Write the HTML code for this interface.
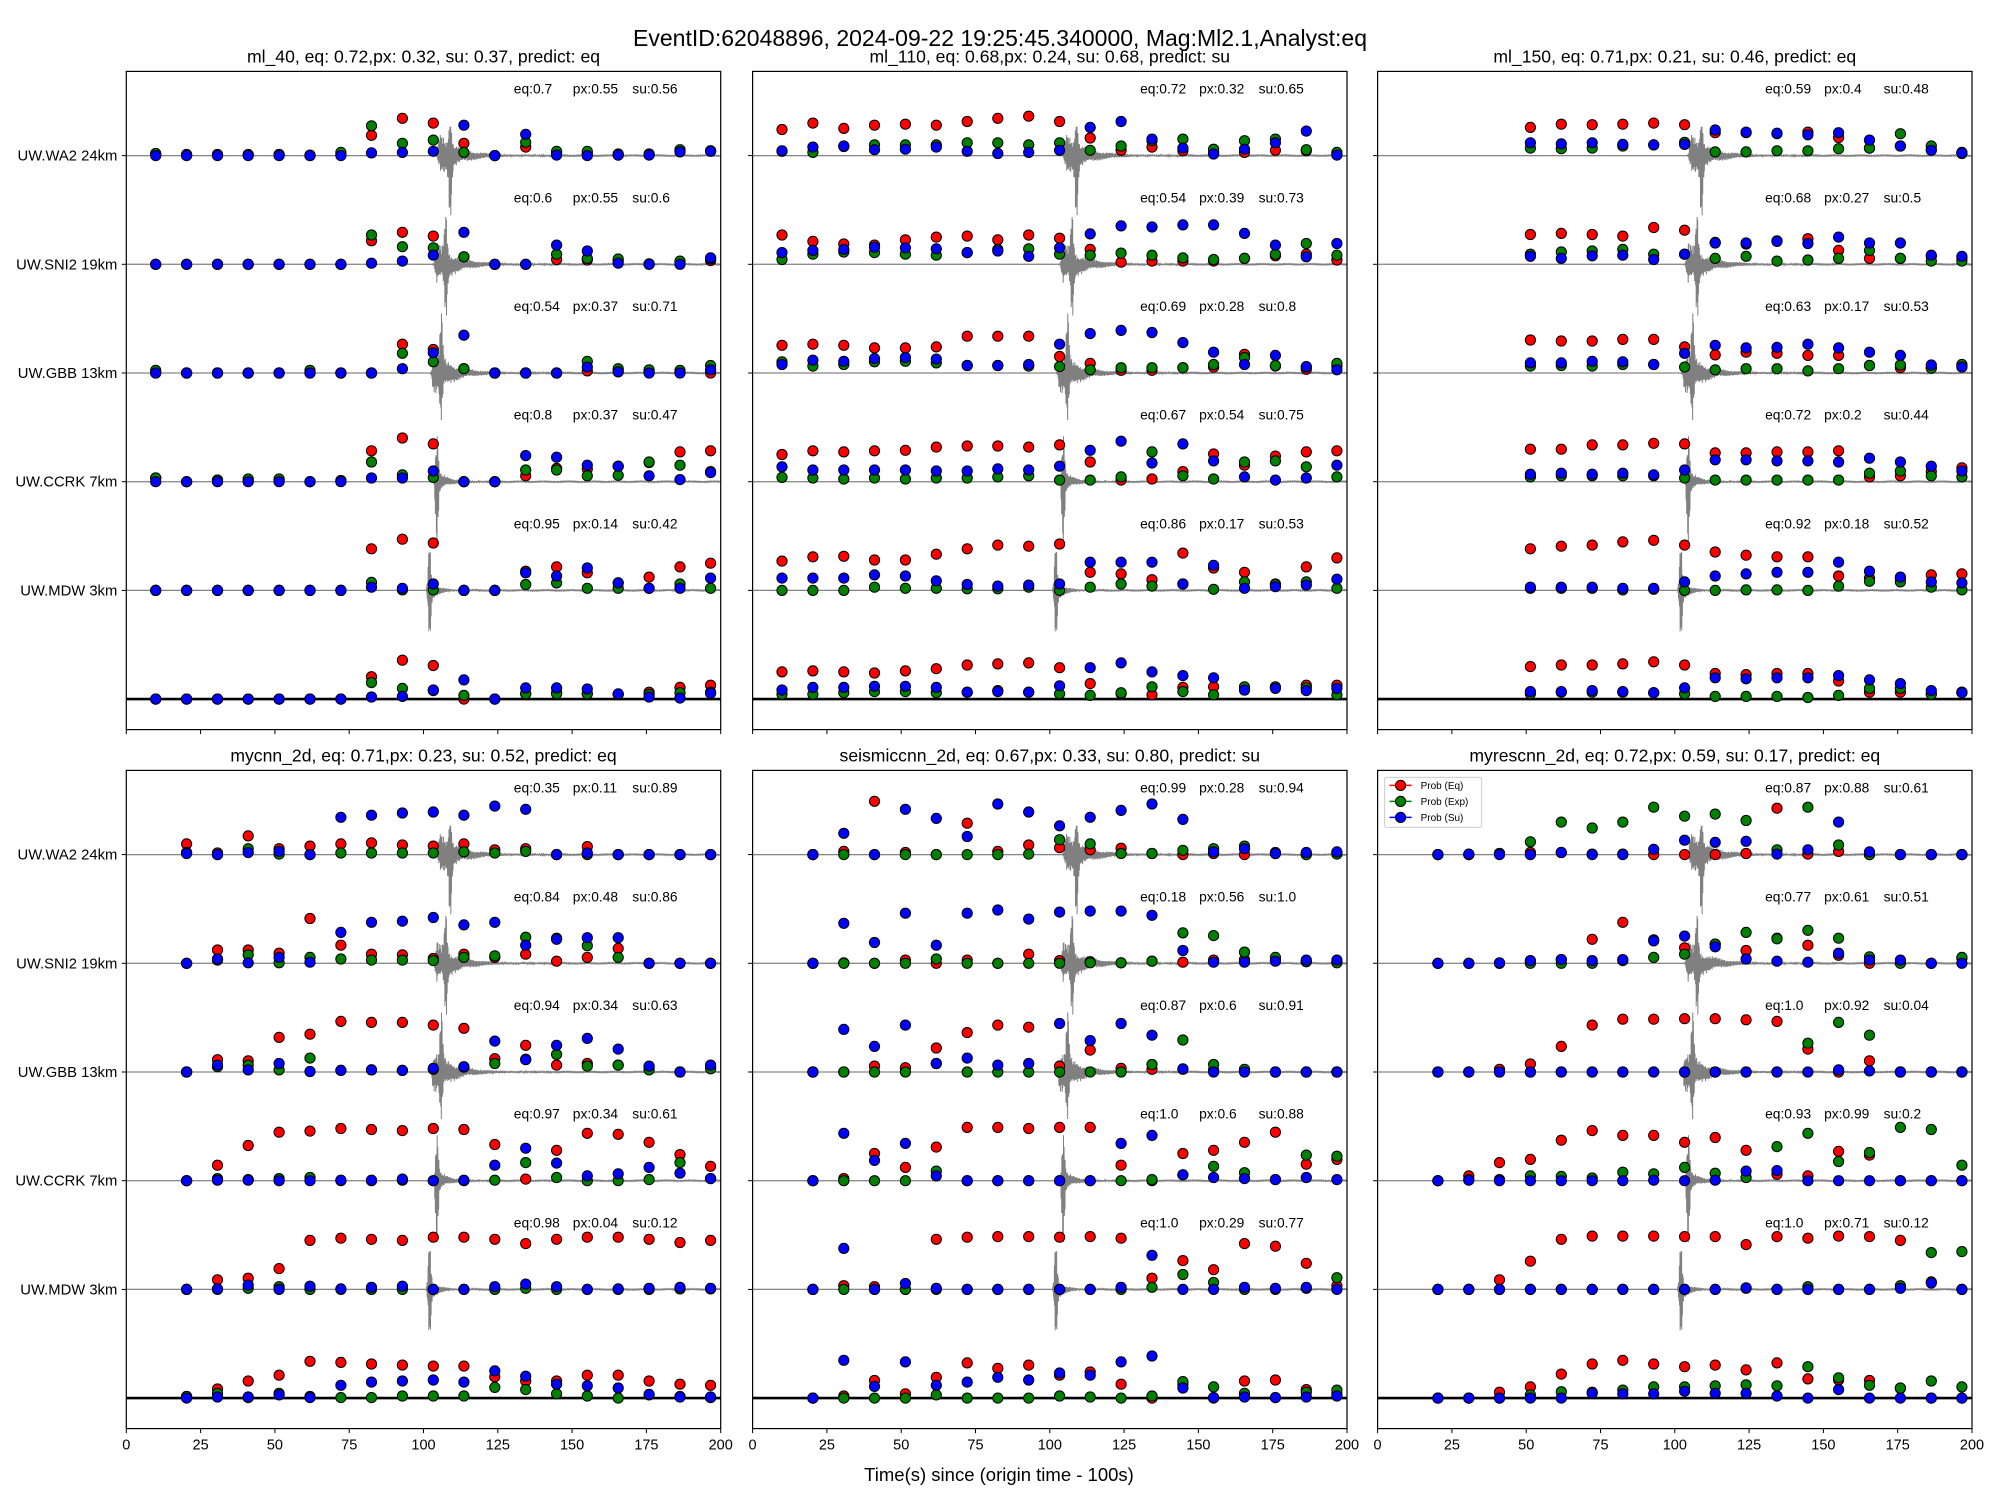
<!DOCTYPE html>
<html><head><meta charset="utf-8"><title>EventID 62048896</title>
<style>html,body{margin:0;padding:0;background:#fff}svg{display:block}text{font-family:"Liberation Sans",sans-serif;fill:#000}</style>
</head><body>
<svg id="fig" width="2000" height="1500" viewBox="0 0 2000 1500" xmlns="http://www.w3.org/2000/svg">
<rect x="0" y="0" width="2000" height="1500" fill="#fff"/>
<text x="1000" y="46" font-size="23" text-anchor="middle">EventID:62048896, 2024-09-22 19:25:45.340000, Mag:Ml2.1,Analyst:eq</text>
<text x="999" y="1481" font-size="18.5" text-anchor="middle">Time(s) since (origin time - 100s)</text>
</svg>
<script>
const times = [9.9,20.3,30.7,41.0,51.4,61.8,72.2,82.5,92.9,103.3,113.6,124.0,134.4,144.8,155.1,165.5,175.9,186.3,196.6];
const stations = ["UW.WA2 24km","UW.SNI2 19km","UW.GBB 13km","UW.CCRK 7km","UW.MDW 3km"];
const xTicks = [0,25,50,75,100,125,150,175,200];
const onsets = [104.5,103.5,102.5,103.5,101.5];
const peaks = [109,107.5,106,104.5,102];

const ml40_eq = [[.02,.02,.02,.02,.02,.01,.02,.38,.70,.61,.23,0,.16,.06,.04,.01,.02,.09,.09],[0,0,0,0,0,0,0,.44,.60,.53,.14,0,0,.09,.08,.06,.01,.04,.07],[0,0,0,0,0,0,0,0,.54,.44,.08,0,0,0,.04,.05,.02,.02,0],[.07,0,.03,.03,.03,0,.02,.58,.82,.71,0,0,.11,.25,.24,.29,.36,.56,.58],[0,0,0,0,0,0,0,.78,.96,.89,0,0,.36,.44,.33,.14,.25,.44,.51],[0,0,0,0,0,0,0,.42,.73,.63,0,0,.10,.12,.10,.09,.13,.22,.26]];
const ml40_px = [[.04,.01,.01,.01,.02,0,.06,.56,.23,.29,.06,0,.25,.08,.08,.03,.03,.11,.09],[0,0,0,0,0,0,0,.55,.33,.31,.14,0,0,.19,.11,.10,0,.06,.10],[.05,0,0,0,0,.05,0,0,.37,.21,.08,0,0,0,.22,.08,.06,.05,.14],[.07,0,.03,.05,.05,0,.02,.37,.13,.08,0,0,.22,.22,.11,.12,.37,.31,.19],[0,0,0,0,0,0,0,.15,.01,.01,0,0,.11,.14,.04,.04,.04,.12,.04],[0,0,0,0,0,0,0,.31,.20,.16,.07,0,.10,.10,.10,.09,.09,.12,.13]];
const ml40_su = [[0,0,0,0,0,0,0,.05,.06,.08,.57,0,.40,.01,0,.01,.01,.07,.08],[0,0,0,0,0,0,0,.02,.06,.17,.60,0,0,.36,.25,.02,0,0,.12],[0,0,0,0,0,0,0,0,.08,.38,.71,0,0,0,.11,.02,0,0,.06],[0,0,0,0,0,0,0,.07,.07,.20,0,0,.49,.46,.31,.29,.11,.04,.17],[0,0,0,0,0,0,0,.06,.04,.12,0,0,.33,.27,.42,.14,.04,.04,.23],[0,0,0,0,0,0,0,.04,.05,.17,.36,0,.21,.21,.19,.10,.04,.02,.11]];
const ml40_ann = [["0.7","0.55","0.56"],["0.6","0.55","0.6"],["0.54","0.37","0.71"],["0.8","0.37","0.47"],["0.95","0.14","0.42"]];

const ml110_eq = [[.49,.61,.51,.57,.59,.57,.64,.70,.74,.64,.33,.10,.16,.09,.06,.06,.10,.09,.04],[.55,.43,.38,.36,.46,.51,.53,.46,.55,.49,.28,.04,.06,.06,.06,.11,.16,.19,.08],[.52,.54,.52,.47,.47,.49,.69,.69,.69,.31,.18,.05,.05,.10,.11,.35,.13,.07,.13],[.51,.58,.56,.58,.59,.65,.67,.67,.65,.69,.37,.03,.05,.19,.52,.31,.48,.56,.58],[.55,.63,.64,.57,.57,.68,.78,.85,.83,.87,.34,.31,.20,.70,.42,.34,.12,.44,.61],[.51,.53,.51,.49,.53,.57,.64,.66,.68,.59,.29,.10,.08,.22,.23,.17,.22,.26,.26]];
const ml110_px = [[.08,.06,.17,.20,.20,.20,.24,.24,.20,.24,.10,.18,.28,.31,.12,.28,.31,.11,.06],[.09,.19,.23,.22,.19,.17,.22,.28,.29,.19,.17,.21,.17,.12,.09,.11,.19,.39,.17],[.21,.13,.16,.21,.22,.19,.14,.14,.13,.12,.06,.10,.10,.10,.16,.29,.14,.11,.18],[.08,.07,.05,.07,.05,.07,.07,.09,.11,.03,.03,.09,.56,.11,.05,.37,.39,.28,.09],[0,0,0,.06,.04,.04,.03,.03,.06,0,.06,.12,.08,.12,.02,.16,.11,.16,.04],[.09,.09,.12,.14,.14,.12,.13,.16,.13,.10,.07,.12,.23,.14,.08,.23,.23,.21,.08]];
const ml110_su = [[.09,.16,.18,.11,.12,.16,.08,.04,.06,.10,.53,.64,.31,.14,.03,.12,.24,.46,.01],[.22,.26,.28,.32,.31,.29,.22,.25,.15,.31,.57,.72,.70,.74,.74,.58,.36,.14,.39],[.16,.24,.22,.27,.29,.26,.14,.14,.16,.54,.74,.80,.76,.57,.39,.16,.33,.12,.06],[.28,.22,.22,.22,.22,.20,.20,.24,.22,.29,.59,.76,.35,.71,.39,.09,.03,.07,.31],[.23,.23,.23,.29,.27,.18,.11,.08,.10,.12,.53,.53,.53,.12,.47,.04,.07,.10,.21],[.17,.22,.22,.24,.24,.22,.13,.14,.13,.25,.59,.68,.51,.44,.40,.17,.20,.16,.20]];
const ml110_ann = [["0.72","0.32","0.65"],["0.54","0.39","0.73"],["0.69","0.28","0.8"],["0.67","0.54","0.75"],["0.86","0.17","0.53"]];

const ml150_eq = [[.53,.59,.58,.59,.61,.58,.43,.43,.41,.44,.34,.14,.18,.11,.06],[.56,.58,.56,.53,.69,.64,.41,.38,.44,.48,.26,.11,.11,.15,.12],[.62,.60,.60,.63,.63,.49,.34,.39,.37,.33,.33,.14,.10,.10,.13],[.61,.61,.69,.69,.72,.71,.54,.54,.56,.56,.58,.09,.11,.19,.26],[.78,.83,.85,.91,.94,.85,.72,.66,.63,.63,.27,.23,.23,.29,.31],[.61,.64,.64,.66,.70,.64,.48,.46,.48,.48,.34,.13,.13,.10,.13]];
const ml150_px = [[.14,.13,.14,.18,.20,.25,.07,.07,.09,.09,.13,.14,.41,.18,.04],[.19,.23,.25,.28,.19,.19,.11,.15,.06,.08,.11,.26,.11,.06,.06],[.13,.14,.13,.16,.16,.11,.06,.08,.08,.04,.08,.14,.15,.09,.16],[.09,.11,.11,.11,.11,.07,.03,.03,.03,.03,.03,.16,.20,.11,.09],[.04,.04,.04,.01,.02,0,0,.01,.01,0,.08,.17,.16,.06,.01],[.10,.13,.13,.13,.12,.10,.05,.05,.05,.03,.07,.20,.20,.09,.13]];
const ml150_su = [[.24,.22,.24,.21,.20,.21,.48,.44,.42,.39,.43,.29,.18,.10,.05],[.15,.11,.16,.17,.09,.19,.40,.40,.43,.39,.51,.40,.40,.17,.15],[.19,.19,.22,.21,.16,.37,.52,.47,.48,.54,.47,.39,.33,.15,.11],[.14,.16,.14,.16,.13,.22,.41,.41,.39,.39,.37,.44,.37,.29,.20],[.06,.06,.06,.04,.04,.16,.27,.31,.34,.34,.53,.36,.25,.16,.14],[.14,.14,.16,.14,.12,.21,.40,.38,.40,.40,.44,.36,.29,.16,.12]];
const ml150_ann = [["0.59","0.4","0.48"],["0.68","0.27","0.5"],["0.63","0.17","0.53"],["0.72","0.2","0.44"],["0.92","0.18","0.52"]];

const mycnn_eq = [[.20,.03,.35,.11,.16,.20,.22,.18,.16,.20,.09,.11,0,.15,0,0,0,0],[0,.25,.25,.19,.84,.34,.17,.16,.09,.17,.11,.17,.04,.11,.28,0,0,0],[0,.23,.21,.65,.71,.95,.93,.93,.88,.82,.25,.50,.13,.16,.13,.08,0,.09],[0,.29,.66,.91,.93,.98,.96,.94,.98,.96,.68,.03,.57,.89,.87,.72,.49,.27],[0,.18,.21,.39,.92,.96,.94,.92,.98,.98,.94,.86,.94,.98,.98,.94,.88,.92],[.03,.17,.32,.43,.69,.67,.64,.62,.60,.60,.40,.32,.32,.43,.43,.32,.26,.24]];
const mycnn_px = [[.04,0,.11,.01,0,.03,.03,.03,.03,.05,.03,.06,0,0,0,0,0,0],[0,.06,.16,.01,.11,.08,.06,.06,.05,.11,.14,.49,.47,.33,.11,0,0,0],[0,.10,.13,.04,.26,.03,.04,.03,.05,.09,.16,.24,.33,.11,.13,.04,0,.06],[0,.04,.02,.04,.06,0,0,.01,0,0,.01,.34,.06,0,0,.02,.34,.04],[0,0,.02,.05,0,0,0,0,0,0,0,.02,0,0,0,0,.01,.01],[.03,.09,.01,.09,.03,.01,.01,.04,.04,.04,.20,.16,.08,.04,0,.06,.03,.01]];
const mycnn_su = [[.02,0,.04,.06,0,.70,.74,.78,.80,.74,.91,.85,0,.03,0,0,0,0],[0,.08,.01,.11,.02,.58,.77,.79,.86,.72,.77,.34,.45,.48,.48,0,0,0],[0,.13,.04,.16,.01,.03,.04,.03,.07,.10,.58,.23,.50,.63,.43,.11,0,.13],[0,.01,.01,0,0,.01,.01,.03,0,.01,.29,.61,.33,.09,.13,.25,.14,.04],[0,.01,.08,0,.06,.01,.04,.06,0,0,.05,.10,.05,0,.01,.02,.04,.02],[0,.02,.02,.06,.01,.24,.30,.32,.34,.30,.51,.41,.26,.23,.19,.07,.02,.02]];
const mycnn_ann = [["0.35","0.11","0.89"],["0.84","0.48","0.86"],["0.94","0.34","0.63"],["0.97","0.34","0.61"],["0.98","0.04","0.12"]];

const scnn_eq = [[0,.06,1.0,.04,0,.59,.06,.18,.13,.09,.12,.02,0,.02,0,.02,0,.02],[0,.01,0,.06,0,.06,0,.17,.05,.03,.01,.04,.02,.06,.07,.06,.03,.03],[0,0,.11,.08,.45,.74,.88,.84,.11,.41,.07,.05,.05,.04,.04,0,0,0],[0,.04,.51,.25,.63,1.0,1.0,.98,1.0,1.0,.29,0,.51,.57,.72,.91,.31,.40],[0,.07,.05,0,.94,.98,.99,.99,.98,.99,.96,.21,.54,.37,.86,.81,.49,.07],[0,.04,.33,.08,.39,.66,.56,.62,.43,.49,.26,0,.26,0,.32,.34,.16,.08]];
const scnn_px = [[0,0,0,0,0,0,0,.01,.28,.20,.02,.02,.08,.11,.16,.04,0,.01],[0,0,0,0,.08,0,0,0,0,.01,.01,.04,.57,.52,.21,.11,.03,.01],[0,0,0,0,.16,0,0,0,0,0,0,.14,.60,.14,.05,0,0,0],[0,0,0,0,.18,0,0,0,0,0,0,.02,.11,.27,.15,.02,.48,.46],[0,0,0,0,0,0,0,0,0,0,0,.04,.28,.13,0,0,.02,.22],[0,0,0,0,.06,0,0,0,.04,.02,0,.04,.31,.21,.09,.01,.11,.15]];
const scnn_su = [[0,.40,0,.85,.68,.34,.95,.80,.54,.70,.83,.95,.66,.05,.11,.02,.04,.05],[0,.75,.39,.94,.34,.94,1.0,.83,.96,.98,.98,.90,.24,.02,.02,.04,.06,.06],[0,.80,.48,.88,.16,.26,.13,.16,.91,.59,.91,.69,.06,0,0,0,0,0],[0,.89,.38,.70,.09,0,0,0,0,0,.70,.85,.11,.06,.04,.02,.06,.02],[0,.77,0,.11,.02,0,0,0,0,0,.04,.64,0,0,.04,.02,.04,0],[0,.71,.22,.68,.24,.30,.39,.34,.47,.43,.68,.79,.19,.01,.02,.01,.02,.04]];
const scnn_ann = [["0.99","0.28","0.94"],["0.18","0.56","1.0"],["0.87","0.6","0.91"],["1.0","0.6","0.88"],["1.0","0.29","0.77"]];

const rcnn_eq = [[0,0,.02,.04,.04,.01,.01,0,0,0,.02,.87,.01,.06,0,0,0,0],[0,0,0,.03,.07,.45,.77,.44,.29,.36,.24,.47,.34,.15,0,.01,0,.09],[0,0,.05,.15,.48,.88,.99,.99,1.0,1.0,.98,.95,.43,0,.21,0,0,0],[0,.09,.34,.40,.76,.94,.85,.85,.72,.81,.57,.12,.09,.55,.48,0,0,0],[0,0,.18,.53,.94,1.0,1.0,1.0,.99,.99,.84,.99,.96,1.0,.99,.92,.14,0],[0,0,.11,.21,.45,.64,.71,.64,.59,.62,.53,.66,.36,.34,.33,.18,0,0]];
const rcnn_px = [[0,0,.02,.24,.61,.50,.61,.89,.72,.76,.64,.09,.89,.18,0,0,0,0],[0,0,0,0,0,0,.05,.11,.17,.36,.58,.46,.62,.47,.12,0,0,.11],[0,0,0,0,0,0,0,0,0,0,0,0,.54,.93,.69,0,0,0],[0,.02,.02,.09,.08,.05,.16,.13,.25,.14,.06,.64,.89,.36,.53,1.0,.96,.29],[0,0,0,0,0,0,0,0,0,0,.02,0,.05,0,0,.07,.69,.71],[0,0,0,.06,.12,.11,.15,.21,.21,.23,.25,.23,.59,.38,.24,.19,.32,.21]];
const rcnn_su = [[0,.01,0,0,.04,0,0,.10,.27,.23,.25,.01,.09,.61,.05,0,0,0],[0,0,.01,.05,.07,.05,.07,.42,.51,.31,.08,.04,.02,.19,.06,.06,0,0],[0,0,0,0,0,0,0,0,0,0,0,0,0,.04,.02,0,0,0],[0,.01,0,0,0,0,0,.01,0,.01,.18,.19,0,0,0,0,0,0],[0,0,0,0,0,0,0,0,0,0,.03,0,0,0,0,.02,.12,0],[0,0,0,0,0,.09,.08,.08,.13,.09,.09,.04,0,.16,0,0,0,0]];
const rcnn_ann = [["0.87","0.88","0.61"],["0.77","0.61","0.51"],["1.0","0.92","0.04"],["0.93","0.99","0.2"],["1.0","0.71","0.12"]];

const NS = "http://www.w3.org/2000/svg";
const svg = document.getElementById("fig");
const LEFTS = [126.3, 752.6, 1377.6], TOPS = [71.4, 770.4], PW = 594.4, PH = 658.2;
const ROW0 = 84.2, ROWSTEP = 108.7, VSCALE = 53.3;

function mk(tag, attrs, parent, txt) {
  const e = document.createElementNS(NS, tag);
  for (const k in attrs) e.setAttribute(k, attrs[k]);
  if (txt !== undefined) e.textContent = txt;
  (parent || svg).appendChild(e);
  return e;
}

const panels = [
  {key:"ml-40", col:0, row:0, start:0, title:"ml_40, eq: 0.72,px: 0.32, su: 0.37, predict: eq", eq:ml40_eq, px:ml40_px, su:ml40_su, ann:ml40_ann},
  {key:"ml-110", col:1, row:0, start:0, title:"ml_110, eq: 0.68,px: 0.24, su: 0.68, predict: su", eq:ml110_eq, px:ml110_px, su:ml110_su, ann:ml110_ann},
  {key:"ml-150", col:2, row:0, start:4, title:"ml_150, eq: 0.71,px: 0.21, su: 0.46, predict: eq", eq:ml150_eq, px:ml150_px, su:ml150_su, ann:ml150_ann},
  {key:"mycnn-2d", col:0, row:1, start:1, title:"mycnn_2d, eq: 0.71,px: 0.23, su: 0.52, predict: eq", eq:mycnn_eq, px:mycnn_px, su:mycnn_su, ann:mycnn_ann},
  {key:"seismiccnn-2d", col:1, row:1, start:1, title:"seismiccnn_2d, eq: 0.67,px: 0.33, su: 0.80, predict: su", eq:scnn_eq, px:scnn_px, su:scnn_su, ann:scnn_ann},
  {key:"myrescnn-2d", col:2, row:1, start:1, title:"myrescnn_2d, eq: 0.72,px: 0.59, su: 0.17, predict: eq", eq:rcnn_eq, px:rcnn_px, su:rcnn_su, ann:rcnn_ann}
];

const upAmp = [49,42,48,54,46], downAmp = [54,54,56,55,54], codaAmp = [28,28,28,18,15], codaTau = [7,7,7,3.5,3];

function wavePath(L, base, s) {
  const X = t => L + t / 200 * PW;
  let d = "M" + X(0).toFixed(1) + " " + base.toFixed(1) + " L" + X(onsets[s] - 0.5).toFixed(1) + " " + base.toFixed(1);
  for (let t = onsets[s] - 0.5; t <= 200; t += 0.05) {
    const osc = Math.sin(t * 91.3 + s) * 0.6 + Math.sin(t * 57.7 + 1.3 * s) * 0.4;
    const dt = t - onsets[s];
    let env = 0.3;
    if (dt > 0) env += codaAmp[s] * Math.exp(-dt / codaTau[s]) * Math.min(1, dt / 1.0) * (0.7 + 0.3 * Math.abs(Math.sin(t * 3.1 + s)));
    const sp = Math.exp(-Math.pow((t - peaks[s]) / 0.6, 2));
    const amp = env + sp * (osc > 0 ? upAmp[s] : downAmp[s]);
    d += " L" + X(t).toFixed(2) + " " + (base - amp * osc).toFixed(1);
  }
  return d;
}

const colors = {eq:"#ff0000", px:"#008000", su:"#0000ff"};

panels.forEach(p => {
  const L = LEFTS[p.col], T = TOPS[p.row];
  const X = t => L + t / 200 * PW;
  const RY = k => T + ROW0 + ROWSTEP * k;
  const g = mk("g", {});
  
  

  const ttl = mk("text", {x: L + PW / 2, y: T - 9, "font-size": 17.6, "text-anchor": "middle"}, g, p.title);
  
  

  for (let k = 0; k < 5; k++) {
    const ln = mk("line", {x1: L, x2: L + PW, y1: RY(k), y2: RY(k), stroke: "#a0a0a0", "stroke-width": 1.2}, g);
    
    
    const w = mk("path", {d: wavePath(L, RY(k), k), fill: "none", stroke: "#808080", "stroke-width": 1}, g);
    
    
  }
  const bl = mk("line", {x1: L, x2: L + PW, y1: RY(5), y2: RY(5), stroke: "#000", "stroke-width": 2.6}, g);
  
  

  ["eq", "px", "su"].forEach(cls => {
    const arr = p[cls];
    for (let k = 0; k < 6; k++) {
      arr[k].forEach((v, j) => {
        if (v === null || v === undefined) return;
        const i = j + p.start;
        const c = mk("circle", {cx: X(times[i]).toFixed(1), cy: (RY(k) - v * VSCALE).toFixed(1), r: 5.1, fill: colors[cls], stroke: "#000", "stroke-width": 1}, g);
        
        
      });
    }
  });

  for (let k = 0; k < 5; k++) {
    const y = RY(k) - 62;
    const a = p.ann[k];
    const t1 = mk("text", {x: L + 387.5, y: y, "font-size": 13.8}, g, "eq:" + a[0]);
    
    
    const t2 = mk("text", {x: L + 446.5, y: y, "font-size": 13.8}, g, "px:" + a[1]);
    
    
    const t3 = mk("text", {x: L + 506, y: y, "font-size": 13.8}, g, "su:" + a[2]);
    
    
  }

  const fr = mk("rect", {x: L, y: T, width: PW, height: PH, fill: "none", stroke: "#000", "stroke-width": 1.2}, g);
  
  

  for (let k = 0; k < 5; k++) {
    const tk = mk("line", {x1: L - 4.5, x2: L, y1: RY(k), y2: RY(k), stroke: "#000", "stroke-width": 1}, g);
    
    
    if (p.col === 0) {
      const lb = mk("text", {x: L - 9, y: RY(k) + 5, "font-size": 14.8, "text-anchor": "end"}, g, stations[k]);
      
      
    }
  }
  xTicks.forEach(v => {
    const tk = mk("line", {x1: X(v), x2: X(v), y1: T + PH, y2: T + PH + 4.5, stroke: "#000", "stroke-width": 1}, g);
    
    
    if (p.row === 1) {
      const lb = mk("text", {x: X(v), y: T + PH + 21, "font-size": 14.5, "text-anchor": "middle"}, g, String(v));
      
      
    }
  });

  if (p.key === "myrescnn-2d") {
    const lg = mk("g", {}, g);
    
    
    const box = mk("rect", {x: L + 7, y: T + 7, width: 97, height: 50, rx: 2, fill: "#fff", "fill-opacity": 0.8, stroke: "#cccccc", "stroke-width": 1}, lg);
    
    
    [["Prob (Eq)", colors.eq], ["Prob (Exp)", colors.px], ["Prob (Su)", colors.su]].forEach((e, n) => {
      const yy = T + 15 + n * 16;
      const ent = mk("g", {}, lg);
      
      
      mk("line", {x1: L + 12, x2: L + 34, y1: yy, y2: yy, stroke: e[1], "stroke-width": 1.5}, ent);
      mk("circle", {cx: L + 23, cy: yy, r: 5.1, fill: e[1], stroke: "#000", "stroke-width": 1}, ent);
      mk("text", {x: L + 43, y: yy + 3.5, "font-size": 10}, ent, e[0]);
    });
  }
});
</script>
</body></html>
